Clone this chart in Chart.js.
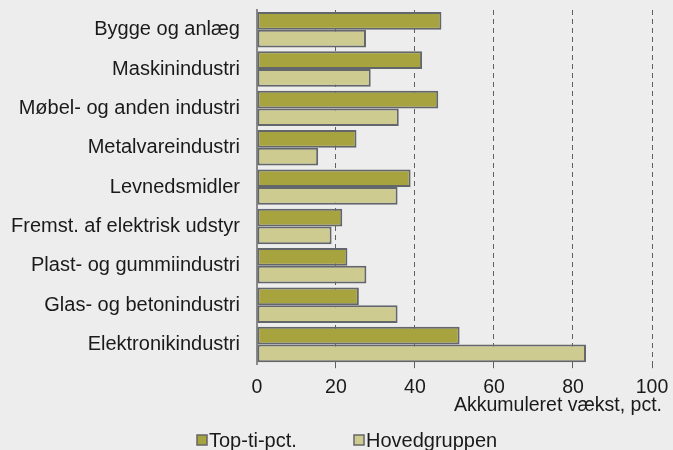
<!DOCTYPE html>
<html>
<head>
<meta charset="utf-8">
<script src="https://cdn.jsdelivr.net/npm/chart.js@4/dist/chart.umd.min.js"></script>
<style>
html,body{margin:0;padding:0;background:#ededed;}
#wrap{width:673px;height:450px;position:relative;}
</style>
</head>
<body>
<div id="wrap"><canvas id="c" width="673" height="450"></canvas></div>
<script>
const categories = ["Bygge og anlæg","Maskinindustri","Møbel- og anden industri","Metalvareindustri","Levnedsmidler","Fremst. af elektrisk udstyr","Plast- og gummiindustri","Glas- og betonindustri","Elektronikindustri"];
const topTi = [46.7, 41.8, 45.9, 25.2, 38.9, 21.6, 22.9, 25.8, 51.3];
const hovedgruppen = [27.6, 28.8, 35.9, 15.5, 35.6, 18.9, 27.7, 35.6, 83.3];
const xTicks = [0, 20, 40, 60, 80, 100];
const seriesNames = ["Top-ti-pct.", "Hovedgruppen"];
const axisTitle = "Akkumuleret vækst, pct.";

const FONT = "'Liberation Sans', Arial, sans-serif";
Chart.defaults.font.family = FONT;
Chart.defaults.color = "#1a1a1a";

const legendPlugin = {
  id: 'customLegend',
  afterDraw(chart) {
    const ctx = chart.ctx;
    ctx.save();
    ctx.font = "20px " + FONT;
    ctx.textBaseline = 'middle';
    const y = 440;
    const starts = [197, 354];
    chart.data.datasets.forEach((ds, i) => {
      const x = starts[i];
      ctx.fillStyle = ds.backgroundColor;
      ctx.strokeStyle = '#666';
      ctx.lineWidth = 1.5;
      ctx.fillRect(x, y - 5, 10, 10);
      ctx.strokeRect(x, y - 5, 10, 10);
      ctx.fillStyle = '#1a1a1a';
      ctx.textAlign = 'left';
      ctx.fillText(ds.label, x + 12, y + 1);
    });
    ctx.restore();
  }
};

const bgPlugin = {
  id: 'bg',
  beforeDraw(chart) {
    const ctx = chart.ctx;
    ctx.save();
    ctx.fillStyle = '#ededed';
    ctx.fillRect(0, 0, chart.width, chart.height);
    ctx.restore();
  }
};

const titleShift = {
  id: 'titleShift',
  afterLayout(chart) { chart.scales.x.right += 10; }
};

new Chart(document.getElementById('c'), {
  type: 'bar',
  data: {
    labels: categories,
    datasets: [
      { label: seriesNames[0], data: topTi, backgroundColor: '#a7a33f', borderColor: '#63666a', borderWidth: 2, borderSkipped: false },
      { label: seriesNames[1], data: hovedgruppen, backgroundColor: '#cdcb90', borderColor: '#63666a', borderWidth: 2, borderSkipped: false }
    ]
  },
  options: {
    indexAxis: 'y',
    responsive: false,
    animation: false,
    devicePixelRatio: 1,
    layout: { padding: { top: 10, right: 21, left: -6, bottom: 33 } },
    datasets: { bar: { categoryPercentage: 0.9, barPercentage: 1.0 } },
    plugins: {
      legend: { display: false },
      tooltip: { enabled: false }
    },
    scales: {
      x: {
        min: 0, max: 100,
        afterBuildTicks(axis) { axis.ticks = xTicks.map(v => ({ value: v })); },
        afterFit(scale) { scale.paddingRight = 0; scale.paddingLeft = 0; },
        ticks: { font: { size: 19.5 }, color: '#1a1a1a', padding: 8 },
        grid: {
          color: (c) => c.tick && c.tick.value === 0 ? 'rgba(0,0,0,0)' : '#606060',
          lineWidth: 1,
          drawTicks: true,
          tickLength: 4
        },
        border: { display: false, dash: [5, 4] },
        title: { display: true, text: axisTitle, align: 'end', font: { size: 19.5 }, color: '#1a1a1a', padding: { top: -14, bottom: 0 } }
      },
      y: {
        afterFit(scale) { scale.paddingTop = 0; scale.paddingBottom = 0; },
        ticks: { font: { size: 20 }, color: '#1a1a1a', padding: 17 },
        grid: { display: false, drawTicks: false },
        border: { display: true, color: '#8a8a8a', width: 2 }
      }
    }
  },
  plugins: [bgPlugin, titleShift, legendPlugin]
});
</script>
</body>
</html>
